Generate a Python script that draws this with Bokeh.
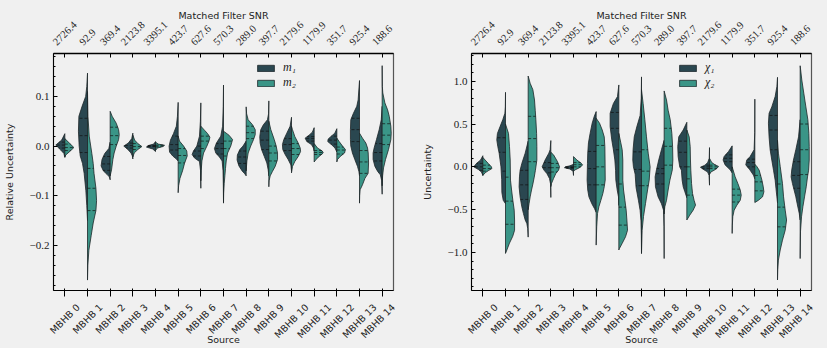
import numpy as np
from bokeh.plotting import figure
from bokeh.layouts import row
from bokeh.models import (Range1d, LinearAxis, FixedTicker, CustomJSTickFormatter,
                          Legend, LegendItem)
from bokeh.embed import file_html
from bokeh.resources import INLINE

# ---------------- data ----------------
sources = ["MBHB 0", "MBHB 1", "MBHB 2", "MBHB 3", "MBHB 4", "MBHB 5", "MBHB 6", "MBHB 7",
           "MBHB 8", "MBHB 9", "MBHB 10", "MBHB 11", "MBHB 12", "MBHB 13", "MBHB 14"]
snr = ["2726.4", "92.9", "369.4", "2123.8", "3395.1", "423.7", "627.6", "570.3",
       "289.0", "397.7", "2179.6", "1179.9", "351.7", "925.4", "188.6"]

# relative uncertainty of m1: profile levels (top -> bottom) and relative density
m1_y = [
    [0.025, 0.012, 0.002, -0.008, -0.015, -0.023],
    [0.147, 0.12, 0.1, 0.08, 0.06, 0.03, 0.0, -0.02, -0.035, -0.055, -0.09, -0.12, -0.15],
    [0.008, -0.005, -0.015, -0.027, -0.04, -0.05, -0.057, -0.062, -0.068],
    [0.026, 0.015, 0.006, 0.0, -0.006, -0.014, -0.02, -0.026],
    [0.009, 0.004, 0.001, -0.002, -0.006, -0.011],
    [0.088, 0.06, 0.04, 0.025, 0.012, 0.0, -0.012, -0.02, -0.026, -0.03],
    [0.087, 0.05, 0.02, 0.0, -0.01, -0.017, -0.024, -0.031, -0.05, -0.085],
    [0.123, 0.08, 0.04, 0.02, 0.006, -0.005, -0.014, -0.022, -0.03, -0.05, -0.08, -0.113],
    [0.01, 0.0, -0.007, -0.018, -0.028, -0.04, -0.05, -0.056, -0.06],
    [0.091, 0.065, 0.053, 0.043, 0.033, 0.019, 0.006, -0.007, -0.021, -0.034, -0.048, -0.06],
    [0.058, 0.04, 0.026, 0.013, 0.003, -0.007, -0.017, -0.027, -0.038, -0.05],
    [0.037, 0.028, 0.022, 0.016, 0.009, 0.003, -0.004, -0.01],
    [0.035, 0.026, 0.019, 0.014, 0.009, 0.003, -0.004, -0.012],
    [0.132, 0.093, 0.08, 0.066, 0.053, 0.033, 0.013, 0.0, -0.014, -0.027, -0.041, -0.051, -0.06],
    [0.08, 0.053, 0.033, 0.013, -0.004, -0.014, -0.027, -0.041, -0.051, -0.058, -0.07, -0.097],
]
m1_w = [
    [0, 0.35, 1.0, 0.45, 0.1, 0],
    [0, 0.08, 0.2, 0.6, 0.95, 1.0, 0.92, 0.8, 0.55, 0.37, 0.18, 0.08, 0],
    [0, 0.15, 0.6, 0.9, 1.0, 0.75, 0.35, 0.1, 0],
    [0, 0.12, 0.5, 1.0, 0.6, 0.2, 0.05, 0],
    [0, 0.2, 0.8, 1.0, 0.3, 0],
    [0, 0.08, 0.2, 0.52, 0.85, 1.0, 0.95, 0.6, 0.2, 0],
    [0, 0.05, 0.15, 0.44, 0.81, 0.96, 0.7, 0.15, 0.03, 0],
    [0, 0.03, 0.1, 0.3, 0.78, 1.0, 0.85, 0.45, 0.15, 0.05, 0.02, 0],
    [0, 0.35, 0.7, 0.97, 1.0, 0.8, 0.45, 0.15, 0],
    [0, 0.03, 0.15, 0.6, 0.89, 1.0, 0.96, 0.8, 0.5, 0.22, 0.07, 0],
    [0, 0.15, 0.52, 0.85, 1.0, 0.96, 0.7, 0.37, 0.07, 0],
    [0, 0.2, 0.56, 1.0, 0.8, 0.3, 0.07, 0],
    [0, 0.22, 0.67, 0.96, 1.0, 0.6, 0.2, 0],
    [0, 0.15, 0.3, 0.67, 0.96, 1.0, 1.0, 0.96, 0.78, 0.52, 0.22, 0.07, 0],
    [0, 0.1, 0.33, 0.63, 0.89, 1.0, 1.0, 0.8, 0.5, 0.2, 0.05, 0],
]
m1_q = [
    [0.008, 0.002, -0.004], [0.056, 0.021, -0.013], [-0.021, -0.036, -0.049],
    [0.006, 0.001, -0.004], [0.001, 0.0, -0.001], [0.02, 0.003, -0.008],
    [0.0, -0.01, -0.02], [0.005, -0.005, -0.016], [-0.01, -0.022, -0.035],
    [0.03, 0.012, -0.007], [0.015, 0.003, -0.009], [0.019, 0.015, 0.01],
    [0.02, 0.012, 0.004], [0.056, 0.033, 0.009], [0.005, -0.013, -0.03],
]

# relative uncertainty of m2
m2_y = [
    [0.015, 0.006, -0.003, -0.01, -0.018, -0.022],
    [0.11, 0.06, 0.02, -0.015, -0.035, -0.055, -0.085, -0.11, -0.13, -0.155, -0.18, -0.21, -0.24, -0.27],
    [0.07, 0.06, 0.046, 0.033, 0.023, 0.013, 0.0, -0.014, -0.027, -0.048, -0.06],
    [0.022, 0.012, 0.005, -0.001, -0.007, -0.014, -0.022],
    [0.008, 0.004, 0.0015, -0.001, -0.004, -0.009],
    [0.02, 0.01, 0.0, -0.01, -0.02, -0.035, -0.05, -0.065, -0.08, -0.094],
    [0.04, 0.032, 0.025, 0.018, 0.01, 0.0, -0.014, -0.03, -0.05, -0.07],
    [0.03, 0.022, 0.013, 0.0, -0.014, -0.03, -0.045, -0.06, -0.075, -0.095, -0.115],
    [0.079, 0.065, 0.053, 0.043, 0.033, 0.023, 0.013, 0.0, -0.014, -0.03, -0.05],
    [0.05, 0.033, 0.013, 0.0, -0.014, -0.027, -0.041, -0.051, -0.06, -0.07, -0.082],
    [0.04, 0.033, 0.019, 0.006, -0.004, -0.011, -0.021, -0.031, -0.041, -0.054],
    [0.005, -0.004, -0.01, -0.014, -0.021, -0.027, -0.032],
    [0.016, 0.009, 0.0, -0.007, -0.014, -0.021, -0.027, -0.032],
    [0.026, 0.016, 0.006, -0.004, -0.014, -0.034, -0.055, -0.065, -0.078, -0.088, -0.1, -0.115],
    [0.162, 0.12, 0.107, 0.087, 0.073, 0.06, 0.04, 0.026, 0.013, -0.007, -0.027, -0.044, -0.06, -0.08],
]
m2_w = [
    [0, 0.5, 1.0, 0.6, 0.1, 0],
    [0, 0.05, 0.19, 0.48, 0.63, 0.72, 0.93, 1.0, 0.93, 0.63, 0.41, 0.15, 0.04, 0],
    [0, 0.22, 0.67, 0.93, 1.0, 0.93, 0.67, 0.44, 0.3, 0.15, 0],
    [0, 0.2, 0.55, 1.0, 0.55, 0.15, 0],
    [0, 0.3, 1.0, 0.8, 0.2, 0],
    [0, 0.15, 0.6, 0.95, 1.0, 0.7, 0.48, 0.2, 0.05, 0],
    [0, 0.4, 0.75, 1.0, 0.9, 0.67, 0.3, 0.12, 0.04, 0],
    [0, 0.6, 1.0, 0.8, 0.45, 0.3, 0.22, 0.15, 0.08, 0.02, 0],
    [0, 0.05, 0.22, 0.7, 1.0, 1.0, 0.81, 0.5, 0.22, 0.08, 0],
    [0, 0.22, 0.6, 0.81, 0.96, 0.96, 0.7, 0.4, 0.15, 0.03, 0],
    [0, 0.11, 0.37, 0.74, 0.96, 1.0, 0.74, 0.37, 0.11, 0],
    [0, 0.37, 0.9, 1.0, 0.55, 0.2, 0],
    [0, 0.26, 0.63, 0.95, 0.85, 0.37, 0.08, 0],
    [0, 0.33, 0.7, 0.89, 0.96, 1.0, 0.95, 0.6, 0.33, 0.07, 0.02, 0],
    [0, 0.02, 0.07, 0.3, 0.6, 0.78, 0.96, 1.0, 0.96, 0.7, 0.37, 0.15, 0.05, 0],
]
m2_q = [
    [0.004, -0.003, -0.009], [-0.045, -0.085, -0.13], [0.038, 0.021, 0.003],
    [0.005, -0.001, -0.007], [0.002, 0.0, -0.002], [-0.005, -0.019, -0.034],
    [0.02, 0.01, -0.005], [0.01, -0.005, -0.02], [0.04, 0.027, 0.015],
    [0.0, -0.014, -0.03], [0.005, -0.005, -0.017], [-0.009, -0.013, -0.017],
    [-0.002, -0.008, -0.016], [-0.009, -0.032, -0.055], [0.045, 0.022, 0.003],
]

# uncertainty of chi1
chi1_y = [
    [0.13, 0.08, 0.04, 0.0, -0.03, -0.06, -0.1],
    [0.87, 0.7, 0.625, 0.55, 0.47, 0.39, 0.315, 0.237, 0.16, 0.08, 0.0, -0.15, -0.3, -0.39, -0.43],
    [0.3, 0.16, 0.04, -0.04, -0.117, -0.233, -0.35, -0.466, -0.545, -0.62, -0.66, -0.72, -0.82],
    [0.307, 0.2, 0.16, 0.08, 0.0, -0.04, -0.078, -0.136, -0.2, -0.357],
    [0.03, 0.012, 0.0, -0.01, -0.025, -0.05, -0.1],
    [0.645, 0.587, 0.51, 0.39, 0.28, 0.16, 0.04, -0.155, -0.27, -0.35, -0.43, -0.486, -0.53],
    [0.956, 0.82, 0.74, 0.625, 0.47, 0.315, 0.2, 0.08, -0.04, -0.155, -0.27, -0.35, -0.45],
    [1.05, 0.8, 0.6, 0.467, 0.35, 0.2, 0.08, 0.0, -0.085, -0.24, -0.396, -0.51, -0.63, -0.8, -1.01],
    [0.31, 0.2, 0.08, -0.035, -0.117, -0.233, -0.35, -0.43, -0.505, -0.7, -1.07],
    [0.52, 0.43, 0.35, 0.237, 0.12, 0.0, -0.039, -0.155, -0.233, -0.29, -0.36],
    [0.225, 0.1, 0.05, 0.02, -0.005, -0.035, -0.06, -0.1, -0.214],
    [0.245, 0.18, 0.12, 0.08, 0.023, -0.035, -0.07],
    [0.79, 0.4, 0.2, 0.12, 0.08, 0.023, -0.035, -0.097, -0.14],
    [1.045, 0.936, 0.82, 0.7, 0.625, 0.51, 0.35, 0.2, 0.08, -0.039, -0.155, -0.27, -0.35, -0.42],
    [0.55, 0.35, 0.2, 0.08, -0.035, -0.117, -0.195, -0.27, -0.35, -0.43, -0.544, -0.62],
]
chi1_w = [
    [0, 0.25, 0.7, 1.0, 0.5, 0.15, 0],
    [0, 0.02, 0.07, 0.3, 0.6, 0.89, 0.96, 0.85, 0.7, 0.6, 0.5, 0.42, 0.4, 0.25, 0],
    [0, 0.33, 0.7, 0.89, 0.96, 1.0, 0.89, 0.7, 0.52, 0.33, 0.15, 0.05, 0],
    [0, 0.08, 0.22, 0.63, 0.96, 0.74, 0.44, 0.15, 0.03, 0],
    [0, 0.4, 0.9, 1.0, 0.4, 0.05, 0],
    [0, 0.22, 0.44, 0.67, 0.85, 0.93, 0.96, 1.0, 0.93, 0.8, 0.48, 0.19, 0],
    [0, 0.15, 0.6, 0.96, 0.96, 0.78, 0.6, 0.44, 0.36, 0.33, 0.18, 0.04, 0],
    [0, 0.03, 0.15, 0.52, 0.8, 0.93, 0.96, 0.89, 0.7, 0.6, 0.33, 0.15, 0.06, 0.02, 0],
    [0, 0.3, 0.6, 0.85, 1.0, 0.96, 0.67, 0.3, 0.07, 0.02, 0],
    [0, 0.4, 0.89, 1.0, 0.96, 0.78, 0.6, 0.52, 0.4, 0.22, 0],
    [0, 0.03, 0.2, 0.5, 1.0, 0.6, 0.2, 0.05, 0],
    [0, 0.4, 0.89, 1.0, 0.78, 0.22, 0],
    [0, 0.01, 0.08, 0.52, 0.89, 1.0, 0.55, 0.15, 0],
    [0, 0.07, 0.26, 0.63, 0.93, 1.0, 0.93, 0.81, 0.63, 0.44, 0.26, 0.15, 0.07, 0],
    [0, 0.18, 0.48, 0.74, 0.93, 1.0, 0.85, 0.67, 0.48, 0.33, 0.1, 0],
]
chi1_q = [
    [0.04, 0.0, -0.04], [0.34, 0.17, -0.05], [-0.04, -0.21, -0.38],
    [0.05, -0.01, -0.07], [0.0, -0.008, -0.015], [0.18, -0.02, -0.21],
    [0.635, 0.45, 0.2], [0.175, -0.03, -0.22], [-0.02, -0.08, -0.2],
    [0.3, 0.17, 0.0], [0.02, 0.0, -0.02], [0.14, 0.1, 0.06],
    [0.09, 0.05, 0.0], [0.6, 0.43, 0.2], [0.06, -0.1, -0.25],
]

# uncertainty of chi2
chi2_y = [
    [0.11, 0.08, 0.04, 0.0, -0.02, -0.045, -0.07, -0.1],
    [0.5, 0.39, 0.237, 0.08, -0.155, -0.27, -0.39, -0.505, -0.62, -0.74, -0.81, -0.89, -0.97, -1.01],
    [1.06, 0.975, 0.9, 0.78, 0.66, 0.55, 0.39, 0.237, 0.08, -0.04, -0.12, -0.2, -0.27, -0.35, -0.43, -0.5],
    [0.17, 0.14, 0.06, 0.0, -0.039, -0.078, -0.136, -0.195, -0.23],
    [0.12, 0.08, 0.043, 0.023, 0.0, -0.016, -0.035, -0.05],
    [0.567, 0.51, 0.43, 0.35, 0.237, 0.08, -0.155, -0.233, -0.31, -0.39, -0.466, -0.545, -0.7, -0.913],
    [0.39, 0.28, 0.2, 0.08, -0.155, -0.27, -0.39, -0.505, -0.62, -0.74, -0.816, -0.893, -0.952, -0.97],
    [0.9, 0.74, 0.55, 0.35, 0.16, 0.0, -0.155, -0.27, -0.43, -0.58, -0.74, -1.01],
    [0.886, 0.78, 0.66, 0.55, 0.39, 0.237, 0.08, -0.035, -0.155, -0.27, -0.39, -0.466, -0.55],
    [0.43, 0.35, 0.237, 0.08, -0.039, -0.195, -0.31, -0.39, -0.446, -0.505, -0.563, -0.62],
    [0.1, 0.05, 0.025, 0.005, -0.02, -0.04, -0.06, -0.09],
    [0.0, -0.117, -0.195, -0.27, -0.33, -0.39, -0.447, -0.505, -0.58, -0.68, -0.777],
    [0.03, 0.004, -0.039, -0.155, -0.233, -0.29, -0.35, -0.39, -0.416],
    [0.31, 0.16, 0.004, -0.195, -0.35, -0.505, -0.62, -0.74, -0.855, -0.97, -1.088, -1.2, -1.32],
    [1.18, 1.014, 0.86, 0.7, 0.55, 0.39, 0.237, 0.08, -0.039, -0.117, -0.233, -0.35, -0.466, -0.583, -0.75, -1.07],
]
chi2_w = [
    [0, 0.25, 0.6, 0.95, 1.0, 0.6, 0.25, 0],
    [0, 0.33, 0.44, 0.52, 0.55, 0.67, 0.81, 0.96, 1.0, 1.0, 0.8, 0.44, 0.15, 0],
    [0, 0.22, 0.52, 0.7, 0.78, 0.85, 0.93, 0.96, 0.96, 0.8, 0.67, 0.52, 0.37, 0.22, 0.1, 0],
    [0, 0.3, 0.74, 0.96, 0.85, 0.55, 0.3, 0.07, 0],
    [0, 0.37, 0.85, 1.0, 0.8, 0.55, 0.18, 0],
    [0, 0.37, 0.67, 0.89, 0.96, 0.98, 1.0, 0.89, 0.74, 0.52, 0.3, 0.15, 0.06, 0],
    [0, 0.22, 0.37, 0.44, 0.44, 0.52, 0.67, 0.81, 0.89, 0.96, 0.74, 0.37, 0.07, 0],
    [0, 0.18, 0.37, 0.55, 0.74, 0.95, 0.85, 0.67, 0.44, 0.22, 0.07, 0],
    [0, 0.26, 0.44, 0.67, 0.85, 0.93, 0.96, 0.9, 0.63, 0.44, 0.26, 0.07, 0],
    [0, 0.26, 0.37, 0.4, 0.44, 0.52, 0.63, 0.8, 0.96, 0.7, 0.33, 0],
    [0, 0.25, 0.6, 1.0, 0.8, 0.5, 0.15, 0],
    [0, 0.33, 0.63, 0.89, 1.0, 0.89, 0.52, 0.22, 0.07, 0.02, 0],
    [0, 0.22, 0.48, 0.78, 0.93, 1.0, 0.85, 0.4, 0],
    [0, 0.1, 0.3, 0.55, 0.67, 0.85, 1.0, 0.85, 0.55, 0.3, 0.1, 0.03, 0],
    [0, 0.18, 0.4, 0.63, 0.85, 0.96, 1.0, 1.0, 0.93, 0.81, 0.67, 0.48, 0.3, 0.15, 0.04, 0],
]
chi2_q = [
    [0.02, -0.02, -0.05], [-0.12, -0.4, -0.67], [0.59, 0.33, 0.06],
    [0.04, -0.01, -0.06], [0.05, 0.025, 0.0], [0.25, 0.0, -0.21],
    [-0.2, -0.47, -0.68], [0.2, -0.05, -0.22], [0.45, 0.24, 0.02],
    [0.0, -0.14, -0.33], [0.02, 0.0, -0.02], [-0.26, -0.33, -0.41],
    [-0.1, -0.175, -0.28], [-0.2, -0.47, -0.7], [0.5, 0.2, -0.09],
]

left_yticks = [-0.2, -0.1, 0.0, 0.1]
right_yticks = [-1.0, -0.5, 0.0, 0.5, 1.0]

# ---------------- style ----------------
BG = "#f0f0f0"
DARK = "#2a4750"
TEAL = "#3a9587"
EDGE = "#1d2628"
HALF = 0.4
FRAME_W = 340
PX_PER_UNIT = FRAME_W / 15.0
SERIF = "Liberation Serif"
SANS = "DejaVu Sans"
BOTTOM_FS = 9.5
TOP_FS = 10.5
C45 = 0.7071


def halves(ys, ws, sign):
    xs_all, ys_all = [], []
    for i, (yy, ww) in enumerate(zip(ys, ws)):
        xs_all.append([i + sign * HALF * w for w in ww] + [i, i])
        ys_all.append(list(yy) + [yy[-1], yy[0]])
    return xs_all, ys_all


def quart_lines(ys, ws, qs, sign):
    xs_all, ys_all = [], []
    for i, (yy, ww, qq) in enumerate(zip(ys, ws, qs)):
        yr = np.array(yy)[::-1]
        wr = np.array(ww)[::-1]
        for q in qq:
            w = float(np.interp(q, yr, wr))
            xs_all.append([i, i + sign * HALF * w])
            ys_all.append([q, q])
    return xs_all, ys_all


def label_axis(labels, side, font, fs):
    # rotated labels are anchored at their end (below) / start (above);
    # shift anchors so that each rotated label is centred on its category
    ticks, over = [], {}
    for i, lab in enumerate(labels):
        if side == "below":
            length = fs * (3.304 + 0.636 * (len(lab) - 5))
            t = min(i + C45 * length / 2 / PX_PER_UNIT, 14.49)
        else:
            length = fs * (0.5 * (len(lab) - 1) + 0.25)
            t = max(i - C45 * length / 2 / PX_PER_UNIT, -0.49)
        t = round(t, 4)
        ticks.append(t)
        over[t] = lab
    ax = LinearAxis(ticker=FixedTicker(ticks=ticks), major_label_overrides=over,
                    formatter=CustomJSTickFormatter(code="return ''"))
    ax.major_label_orientation = np.pi / 4
    ax.major_tick_in = 0
    ax.major_tick_out = 0
    ax.minor_tick_in = 0
    ax.minor_tick_out = 0
    ax.axis_line_color = None
    ax.major_label_text_font = font
    ax.major_label_text_font_size = f"{fs}px"
    ax.major_label_text_color = "#222222"
    ax.axis_label_text_font = SANS
    ax.axis_label_text_font_style = "normal"
    ax.axis_label_text_font_size = "9.5px"
    ax.axis_label_text_color = "#222222"
    return ax


def panel(ylabel, yrange, yticks, minor, y1, w1, q1, y2, w2, q2, lab1, lab2,
          width, b_left, b_right, leg_x):
    p = figure(width=width, height=348,
               x_range=Range1d(-0.5, 14.5), y_range=Range1d(*yrange),
               output_backend="svg", toolbar_location=None,
               min_border_left=b_left, min_border_right=b_right,
               min_border_top=53, min_border_bottom=57,
               background_fill_color=BG, border_fill_color=BG)
    p.grid.visible = False
    p.outline_line_color = "#555555"
    p.outline_line_width = 1.2

    p.xaxis.ticker = FixedTicker(ticks=list(range(15)))
    p.xaxis.formatter = CustomJSTickFormatter(code="return ''")
    top = LinearAxis(ticker=FixedTicker(ticks=list(range(15))),
                     formatter=CustomJSTickFormatter(code="return ''"))
    p.add_layout(top, "above")
    for ax in (p.xaxis[0], top):
        ax.major_tick_in = 4
        ax.major_tick_out = 0
        ax.minor_tick_in = 0
        ax.minor_tick_out = 0
        ax.axis_line_color = "black"
        ax.major_tick_line_color = "black"
        ax.major_label_text_font_size = "0px"
        ax.major_label_standoff = 0
    top.axis_line_width = 1.6

    bottom_labels = label_axis(sources, "below", SANS, BOTTOM_FS)
    bottom_labels.major_label_standoff = 9
    bottom_labels.axis_label = "Source"
    bottom_labels.axis_label_standoff = -13
    p.add_layout(bottom_labels, "below")
    top_labels = label_axis(snr, "above", SERIF, TOP_FS)
    top_labels.major_label_standoff = 10
    top_labels.axis_label = "Matched Filter SNR"
    top_labels.axis_label_standoff = -6
    p.add_layout(top_labels, "above")

    ya = p.yaxis[0]
    ya.ticker = FixedTicker(ticks=yticks, minor_ticks=minor)
    ya.formatter = CustomJSTickFormatter(code="return tick.toFixed(1).replace('-', '\u2212')")
    ya.major_tick_in = 4
    ya.major_tick_out = 0
    ya.minor_tick_in = 2
    ya.minor_tick_out = 0
    ya.axis_line_color = "black"
    ya.major_label_text_font = SERIF
    ya.major_label_text_font_size = "11px"
    ya.major_label_text_color = "#222222"
    ya.major_label_standoff = 4
    ya.axis_label = ylabel
    ya.axis_label_text_font = SANS
    ya.axis_label_text_font_style = "normal"
    ya.axis_label_text_font_size = "9.5px"
    ya.axis_label_text_color = "#222222"
    ya.axis_label_standoff = 12

    xs, ys = halves(y1, w1, -1)
    r1 = p.patches(xs, ys, fill_color=DARK, line_color=EDGE, line_width=0.8)
    xs, ys = halves(y2, w2, +1)
    r2 = p.patches(xs, ys, fill_color=TEAL, line_color=EDGE, line_width=0.8)
    qx, qy = quart_lines(y1, w1, q1, -1)
    p.multi_line(qx, qy, line_color="#111111", line_width=0.7, line_dash="3 2")
    qx, qy = quart_lines(y2, w2, q2, +1)
    p.multi_line(qx, qy, line_color="#111111", line_width=0.7, line_dash="3 2")

    legend = Legend(items=[LegendItem(label=lab1, renderers=[r1]),
                           LegendItem(label=lab2, renderers=[r2])],
                    location=(leg_x, 200), padding=0, margin=0, spacing=0,
                    glyph_width=21, glyph_height=8, label_height=8,
                    label_standoff=7, border_line_alpha=0, background_fill_alpha=0,
                    label_text_font=SERIF, label_text_font_style="italic",
                    label_text_font_size="12px", label_text_color="#222222")
    p.add_layout(legend)
    return p


pL = panel("Relative Uncertainty", (-0.291, 0.1865), left_yticks,
           [round(v, 2) for v in np.arange(-0.28, 0.181, 0.02)],
           m1_y, m1_w, m1_q, m2_y, m2_w, m2_q, "m\u2081", "m\u2082", 410, 53, 17, 202)
pR = panel("Uncertainty", (-1.443, 1.323), right_yticks,
           [round(v, 1) for v in np.arange(-1.4, 1.31, 0.1)],
           chi1_y, chi1_w, chi1_q, chi2_y, chi2_w, chi2_q, "\u03c7\u2081", "\u03c7\u2082", 417, 61, 16, 206)

layout = row(pL, pR)

tmpl = "{% block preamble %}<style>html, body { background: #f0f0f0; }</style>{% endblock %}"
try:
    html = file_html(layout, INLINE, title="violins", template=tmpl)
except Exception:
    html = file_html(layout, INLINE, title="violins")
open("out.html", "w", encoding="utf-8").write(html)
